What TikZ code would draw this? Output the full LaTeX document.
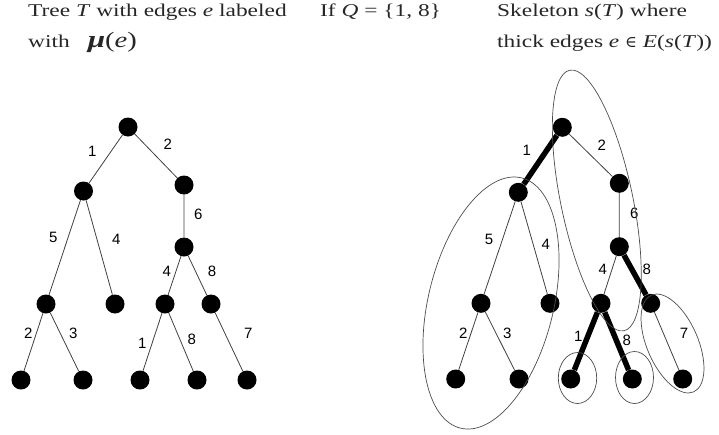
\documentclass[tikz,border=0pt]{standalone}
\usepackage{fontspec}
\newfontfamily\titlefont[FakeStretch=1.3]{Liberation Serif}
\newfontfamily\lblfont{Liberation Sans}
\newfontfamily\symbfont{DejaVu Serif}
\begin{document}
\begin{tikzpicture}[x=1pt,y=1pt,
  dot/.style={circle,fill=black,inner sep=0pt,minimum size=19pt},
  edge/.style={draw=black!75,line width=0.8pt},
  thk/.style={draw=black,line width=5.5pt},
  lbl/.style={font=\lblfont\fontsize{15}{15}\selectfont,inner sep=0pt},
  blob/.style={draw=black!70,line width=0.7pt},
  ttl/.style={font=\titlefont\fontsize{18}{31}\selectfont,align=left,anchor=north west,inner sep=0pt,text=black!85}]
\useasboundingbox (0,-434) rectangle (719,0);
% titles
\node[ttl] (t1) at (28,-4) {Tree \textit{T} with edges \textit{e} labeled\\with\hspace{18pt}{\fontsize{24}{24}\selectfont\bfseries\itshape μ}{\fontsize{22}{22}\selectfont(\textit{e})}};
\node[ttl] (t2) at (320,-4) {If \textit{Q} = \{1, 8\}};
\node[ttl] (t3) at (497,-4) {Skeleton \textit{s}(\textit{T}) where\\thick edges \textit{e} {\symbfont\fontsize{16}{16}\selectfont ∈} \textit{E}(\textit{s}(\textit{T}))};
% left tree
\node[dot] (r) at (128,-127) {};
\node[dot] (a) at (83.5,-191) {};
\node[dot] (b) at (184,-185) {};
\node[dot] (c) at (184,-247) {};
\node[dot] (d) at (46,-304) {};
\node[dot] (e) at (115,-304) {};
\node[dot] (f) at (165,-304) {};
\node[dot] (g) at (211,-304) {};
\node[dot] (dl) at (21,-380) {};
\node[dot] (dr) at (83,-380) {};
\node[dot] (fl) at (140,-380) {};
\node[dot] (fr) at (197,-380) {};
\node[dot] (gl) at (247,-380) {};
\draw[edge] (r)--(a) (r)--(b) (b)--(c) (a)--(d) (a)--(e) (c)--(f) (c)--(g)
  (d)--(dl) (d)--(dr) (f)--(fl) (f)--(fr) (g)--(gl);
\node[lbl] (l1) at (92.3,-151.7) {1};
\node[lbl] (l2) at (167.7,-144.3) {2};
\node[lbl] (l3) at (198.3,-214) {6};
\node[lbl] (l4) at (53.3,-237.7) {5};
\node[lbl] (l5) at (116.3,-239.3) {4};
\node[lbl] (l6) at (166.7,-271) {4};
\node[lbl] (l7) at (212,-271) {8};
\node[lbl] (l8) at (28.3,-333.3) {2};
\node[lbl] (l9) at (73.3,-333.3) {3};
\node[lbl] (l10) at (142.3,-343.3) {1};
\node[lbl] (l11) at (191.7,-339.3) {8};
\node[lbl] (l12) at (248.3,-333.3) {7};
% right tree
\node[dot] (R) at (562.3,-127.3) {};
\node[dot] (A) at (518.3,-192.3) {};
\node[dot] (B) at (619.3,-183.3) {};
\node[dot] (C) at (619.3,-246.7) {};
\node[dot] (D) at (481,-303.3) {};
\node[dot] (E) at (550,-303.3) {};
\node[dot] (F) at (601,-303.3) {};
\node[dot] (G) at (650.7,-303.3) {};
\node[dot] (DL) at (455.7,-379) {};
\node[dot] (DR) at (519,-379) {};
\node[dot] (FL) at (570.7,-379) {};
\node[dot] (FR) at (632.3,-379) {};
\node[dot] (GL) at (682.7,-379) {};
\draw[edge] (R)--(B) (B)--(C) (A)--(D) (A)--(E) (C)--(F)
  (D)--(DL) (D)--(DR) (G)--(GL);
\draw[thk] (R)--(A) (C)--(G) (F)--(FL) (F)--(FR);
\node[lbl] (L1) at (526.7,-150.7) {1};
\node[lbl] (L2) at (601.7,-145) {2};
\node[lbl] (L3) at (634.3,-213.3) {6};
\node[lbl] (L4) at (489,-239) {5};
\node[lbl] (L5) at (545.7,-244.3) {4};
\node[lbl] (L6) at (602.7,-269.3) {4};
\node[lbl] (L7) at (646.7,-269.3) {8};
\node[lbl] (L8) at (463.3,-333.3) {2};
\node[lbl] (L9) at (507.3,-333.3) {3};
\node[lbl] (L10) at (578.3,-336.7) {1};
\node[lbl] (L11) at (626.7,-340) {8};
\node[lbl] (L12) at (684,-333.3) {7};
% ellipses
\draw[blob,rotate around={-13.7:(491,-303)}] (491,-303) ellipse [x radius=62.6,y radius=128.8];
\draw[blob,rotate around={11.75:(596.8,-200.5)}] (596.8,-200.5) ellipse [x radius=36,y radius=133.1];
\draw[blob] (577.5,-378) ellipse [x radius=19.2,y radius=25.5];
\draw[blob] (634.5,-377.5) ellipse [x radius=19,y radius=26];
\draw[blob,rotate around={23.5:(672.5,-343.5)}] (672.5,-343.5) ellipse [x radius=25.5,y radius=52.8];
\end{tikzpicture}
\end{document}
